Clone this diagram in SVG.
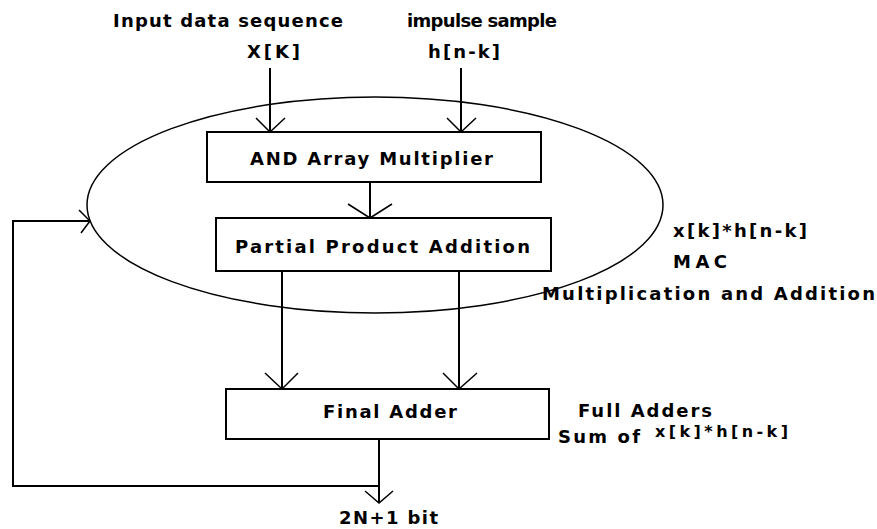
<svg xmlns="http://www.w3.org/2000/svg" width="877" height="529" viewBox="0 0 877 529">
<style>
.t{font-family:"DejaVu Sans","Liberation Sans",sans-serif;font-weight:bold;font-size:18px;fill:#000}
.s{font-size:16px}
.box{fill:#fff;stroke:#000;stroke-width:2}
.ln{fill:none;stroke:#000;stroke-width:2}
.ah{fill:none;stroke:#000;stroke-width:1.5}
</style>
<rect width="877" height="529" fill="#fff"/>
<g id="mac-ellipse">
<ellipse cx="375" cy="205" rx="288" ry="108" fill="none" stroke="#000" stroke-width="1.5"/>
</g>
<g id="connectors">
<path class="ln" d="M270 68V132M461 68V132M370 182V218M282 271V389M459 271V389M379 439V503M379 486H13V221H90"/>
<path class="ah" d="M256 118L270 132L285 118M447 118L461 132L476 118M348 204L370 218L392 204M265 373L282 389L298 373M443 373L459 389L477 373M365 491L379 503L393 491M79 210L90 221L81 233"/>
</g>
<g id="labels-top">
<text class="t" x="113" y="27" textLength="230" lengthAdjust="spacing">Input data sequence</text>
<text class="t" x="407" y="27" textLength="150" lengthAdjust="spacing">impulse sample</text>
<text class="t" x="247" y="58" textLength="53" lengthAdjust="spacing">X[K]</text>
<text class="t" x="428" y="58" textLength="72" lengthAdjust="spacing">h[n-k]</text>
</g>
<g id="and-array">
<rect class="box" x="207" y="132" width="334" height="50"/>
<text class="t" x="250" y="165" textLength="243" lengthAdjust="spacing">AND Array Multiplier</text>
</g>
<g id="partial-product">
<rect class="box" x="216" y="218" width="335" height="53"/>
<text class="t" x="235" y="253" textLength="295" lengthAdjust="spacing">Partial Product Addition</text>
</g>
<g id="final-adder">
<rect class="box" x="226" y="389" width="323" height="50"/>
<text class="t" x="323" y="418" textLength="134" lengthAdjust="spacing">Final Adder</text>
</g>
<g id="labels-right">
<text class="t" x="673" y="237" textLength="134" lengthAdjust="spacing">x[k]*h[n-k]</text>
<text class="t" x="673" y="268" textLength="54" lengthAdjust="spacing">MAC</text>
<text class="t" x="542" y="300" textLength="333" lengthAdjust="spacing">Multiplication and Addition</text>
<text class="t" x="578" y="417" textLength="134" lengthAdjust="spacing">Full Adders</text>
<text class="t" x="558" y="443" textLength="82" lengthAdjust="spacing">Sum of</text>
<text class="t s" x="655" y="437" textLength="133" lengthAdjust="spacing">x[k]*h[n-k]</text>
<text class="t" x="339" y="524" textLength="99" lengthAdjust="spacing">2N+1 bit</text>
</g>
</svg>
